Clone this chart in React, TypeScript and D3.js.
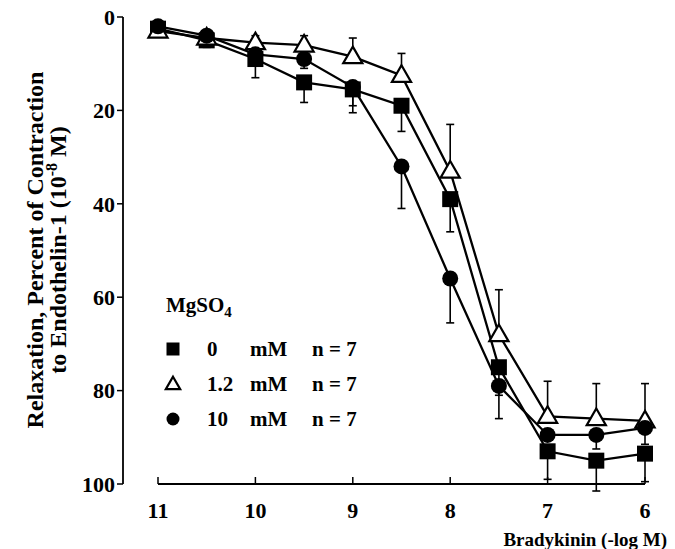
import React, { useRef, useEffect } from 'react';
import * as d3 from 'd3';

// Bradykinin concentration (-log M)
const doses = [11, 10.5, 10, 9.5, 9, 8.5, 8, 7.5, 7, 6.5, 6];

// mean relaxation (% of ET-1 contraction)
const mg0 = [2.5, 5, 9, 14, 15.5, 19, 39, 75, 93, 95, 93.5];
const mg12 = [3, 4.5, 5.5, 6, 8.5, 12.5, 33, 68, 85.5, 86, 86.5];
const mg10 = [2, 4, 8, 9, 15, 32, 56, 79, 89.5, 89.5, 88];

// SEM, drawn one side only
const mg0Err = [1, 1.5, 4, 4.3, 5, 5.5, 7, 6, 6, 6.5, 6];
const mg12Err = [0.5, 1, 1.5, 2, 4, 4.7, 10, 9.6, 7.5, 7.5, 8];
const mg10Err = [0.5, 1, 1, 2, 4, 9, 9.5, 7, 1, 3, 3.5];

const yTicks = [0, 20, 40, 60, 80, 100];
const xTicks = [11, 10, 9, 8, 7, 6];

const FONT = '"Liberation Serif", "Times New Roman", serif';

function App() {
  const svgRef = useRef(null);

  useEffect(() => {
    const width = 675;
    const height = 549;
    const svg = d3.select(svgRef.current);
    svg.selectAll('*').remove();
    svg.attr('width', width).attr('height', height);

    const x = d3.scaleLinear().domain([11, 6]).range([158, 645]);
    const y = d3.scaleLinear().domain([0, 100]).range([17, 484]);

    const axisX = 123;
    const axisY = 484;

    // y axis
    svg.append('line')
      .attr('x1', axisX).attr('x2', axisX)
      .attr('y1', y(0)).attr('y2', y(100))
      .attr('stroke', '#000').attr('stroke-width', 1.8);
    yTicks.forEach(t => {
      svg.append('line')
        .attr('x1', axisX - 6).attr('x2', axisX)
        .attr('y1', y(t)).attr('y2', y(t))
        .attr('stroke', '#000').attr('stroke-width', 1.5);
      svg.append('text')
        .attr('x', axisX - 8).attr('y', y(t))
        .attr('dy', '0.35em')
        .attr('text-anchor', 'end')
        .style('font-family', FONT).style('font-weight', 'bold').style('font-size', '22px')
        .text(t);
    });

    // x axis
    svg.append('line')
      .attr('x1', x(11)).attr('x2', x(6))
      .attr('y1', axisY).attr('y2', axisY)
      .attr('stroke', '#000').attr('stroke-width', 1.8);
    xTicks.forEach(t => {
      svg.append('line')
        .attr('x1', x(t)).attr('x2', x(t))
        .attr('y1', axisY - 7).attr('y2', axisY)
        .attr('stroke', '#000').attr('stroke-width', 1.5);
      svg.append('text')
        .attr('x', x(t)).attr('y', 518)
        .attr('text-anchor', 'middle')
        .style('font-family', FONT).style('font-weight', 'bold').style('font-size', '22px')
        .text(t);
    });

    svg.append('text')
      .attr('x', 667).attr('y', 546)
      .attr('text-anchor', 'end')
      .style('font-family', FONT).style('font-weight', 'bold').style('font-size', '19px')
      .text('Bradykinin (-log M)');

    // y title, two lines
    const yt = svg.append('g').attr('transform', 'translate(0,250) rotate(-90)');
    yt.append('text')
      .attr('x', 0).attr('y', 43)
      .attr('text-anchor', 'middle')
      .style('font-family', FONT).style('font-weight', 'bold').style('font-size', '24px')
      .text('Relaxation, Percent of Contraction');
    const t2 = yt.append('text')
      .attr('x', 0).attr('y', 66)
      .attr('text-anchor', 'middle')
      .style('font-family', FONT).style('font-weight', 'bold').style('font-size', '24px');
    t2.append('tspan').text('to Endothelin-1 (10');
    t2.append('tspan').attr('dy', -9).style('font-size', '16px').text('-8');
    t2.append('tspan').attr('dy', 9).text(' M)');

    const series = [
      { vals: mg0, err: mg0Err, dir: 1, shape: 'square' },
      { vals: mg12, err: mg12Err, dir: -1, shape: 'triangle' },
      { vals: mg10, err: mg10Err, dir: 1, shape: 'circle' },
    ];

    const line = d3.line<number>()
      .x((d, i) => x(doses[i]))
      .y(d => y(d));

    series.forEach(s => {
      svg.append('path')
        .datum(s.vals)
        .attr('d', line)
        .attr('fill', 'none')
        .attr('stroke', '#000')
        .attr('stroke-width', 2.3);
    });

    series.forEach(s => {
      s.vals.forEach((v, i) => {
        const e = v + s.dir * s.err[i];
        const cx = x(doses[i]);
        svg.append('line')
          .attr('x1', cx).attr('x2', cx)
          .attr('y1', y(v)).attr('y2', y(e))
          .attr('stroke', '#000').attr('stroke-width', 1.6);
        svg.append('line')
          .attr('x1', cx - 4).attr('x2', cx + 4)
          .attr('y1', y(e)).attr('y2', y(e))
          .attr('stroke', '#000').attr('stroke-width', 1.6);
      });
    });

    const drawMarker = (g, shape, cx, cy, size) => {
      if (shape === 'square') {
        g.append('rect')
          .attr('x', cx - size / 2).attr('y', cy - size / 2)
          .attr('width', size).attr('height', size)
          .attr('fill', '#000');
      } else if (shape === 'circle') {
        g.append('circle')
          .attr('cx', cx).attr('cy', cy).attr('r', size / 2)
          .attr('fill', '#000');
      } else {
        const sym = d3.symbol().type(d3.symbolTriangle).size(size * size * 0.62);
        g.append('path')
          .attr('d', sym())
          .attr('transform', `translate(${cx},${cy + 1})`)
          .attr('fill', '#fff')
          .attr('stroke', '#000')
          .attr('stroke-width', 2.2);
      }
    };

    series.forEach(s => {
      s.vals.forEach((v, i) => {
        drawMarker(svg, s.shape, x(doses[i]), y(v), 16);
      });
    });

    // legend
    const lg = svg.append('g');
    const mg = lg.append('text')
      .attr('x', 166).attr('y', 312)
      .style('font-family', FONT).style('font-weight', 'bold').style('font-size', '21px');
    mg.append('tspan').text('MgSO');
    mg.append('tspan').attr('dy', 5).style('font-size', '15px').text('4');

    const legendRows = [
      { shape: 'square', conc: '0' },
      { shape: 'triangle', conc: '1.2' },
      { shape: 'circle', conc: '10' },
    ];
    legendRows.forEach((r, i) => {
      const ry = 349 + i * 35;
      drawMarker(lg, r.shape, 173, ry, r.shape === 'triangle' ? 12 : 13);
      [[207, r.conc], [250, 'mM'], [312, 'n = 7']].forEach(([tx, txt]) => {
        lg.append('text')
          .attr('x', tx).attr('y', ry)
          .attr('dy', '0.35em')
          .style('font-family', FONT).style('font-weight', 'bold').style('font-size', '21px')
          .text(txt);
      });
    });
  }, []);

  return (
    <div>
      <svg ref={svgRef} style={{ position: 'absolute', left: 0, top: 0, background: '#fff' }}></svg>
    </div>
  );
}

export default App;
